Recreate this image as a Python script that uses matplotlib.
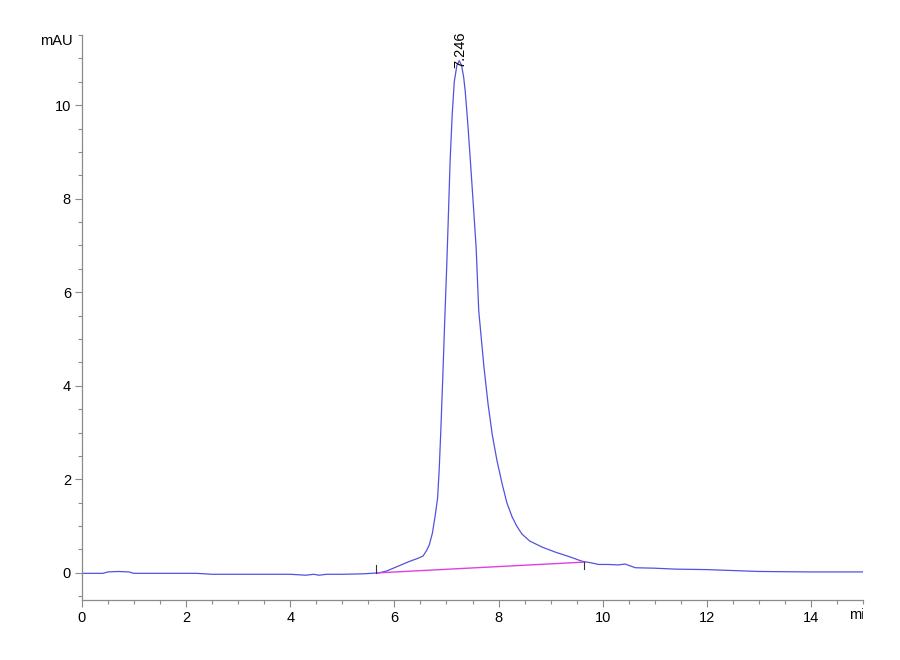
import matplotlib
matplotlib.use("Agg")
import matplotlib.pyplot as plt
from matplotlib.ticker import MultipleLocator
from matplotlib.transforms import Bbox, TransformedBbox

# ---- data ----
time_min = [0.0, 0.4, 0.5, 0.7, 0.9, 1.0, 1.5, 2.2, 2.5, 3.0, 3.5, 4.0, 4.3, 4.45,
            4.55, 4.7, 5.0, 5.4, 5.7, 5.85, 6.0, 6.15, 6.3, 6.45, 6.55, 6.62, 6.67,
            6.73, 6.78, 6.83, 6.86, 6.89, 6.93, 6.97, 7.0, 7.03, 7.07, 7.11, 7.15,
            7.2, 7.246, 7.29, 7.33, 7.36, 7.41, 7.46, 7.52, 7.57, 7.62, 7.67, 7.72,
            7.8, 7.88, 7.97, 8.07, 8.16, 8.26, 8.35, 8.45, 8.6, 8.84, 9.1, 9.35,
            9.6, 9.8, 9.92, 10.1, 10.3, 10.43, 10.5, 10.63, 11.0, 11.4, 12.0, 12.5,
            13.0, 14.0, 15.0]
signal_mau = [-0.01, -0.01, 0.02, 0.03, 0.02, -0.01, -0.01, -0.01, -0.03, -0.03,
              -0.03, -0.03, -0.05, -0.03, -0.05, -0.03, -0.03, -0.02, 0.0, 0.04,
              0.11, 0.18, 0.25, 0.31, 0.36, 0.48, 0.6, 0.85, 1.2, 1.6, 2.2, 3.0,
              4.2, 5.5, 6.4, 7.4, 8.8, 9.8, 10.5, 10.85, 10.95, 10.85, 10.6, 10.3,
              9.6, 8.8, 7.8, 6.95, 5.6, 5.0, 4.4, 3.6, 2.95, 2.4, 1.9, 1.5, 1.2,
              1.0, 0.83, 0.68, 0.55, 0.44, 0.35, 0.25, 0.21, 0.18, 0.18, 0.17,
              0.19, 0.16, 0.11, 0.10, 0.08, 0.07, 0.05, 0.03, 0.02, 0.02]

baseline_t = [5.68, 9.64]
baseline_y = [0.0, 0.23]

peak_rt = 7.246
peak_height = 10.95
peak_label = "7.246"

x_ticks = [0, 2, 4, 6, 8, 10, 12, 14]
y_ticks = [0, 2, 4, 6, 8, 10]

# ---- style ----
plt.rcParams['font.family'] = ['Liberation Sans Narrow', 'Liberation Sans', 'DejaVu Sans']
axis_grey = '#8a8a8a'
fs = 10.5

fig = plt.figure(figsize=(9, 6.6), dpi=100)
ax = fig.add_axes([0.0911, 0.0909, 0.8678, 0.8561])

ax.plot(time_min, signal_mau, color='#5252e0', lw=0.9)
ax.plot(baseline_t, baseline_y, color='#e040e0', lw=1.0)

# integration markers
ax.plot([baseline_t[0] - 0.04] * 2, [0.0, 0.16], color='#333333', lw=0.8)
ax.plot([baseline_t[1]] * 2, [0.09, 0.23], color='#333333', lw=0.8)

ax.text(peak_rt + 0.02, peak_height - 0.15, peak_label, rotation=90, ha='center',
        va='bottom', fontsize=fs, color='black')

ax.set_xlim(0, 15)
ax.set_ylim(-0.58, 11.5)

ax.set_xticks(x_ticks)
ax.set_yticks(y_ticks)
ax.xaxis.set_minor_locator(MultipleLocator(0.5))
ax.yaxis.set_minor_locator(MultipleLocator(0.5))

for s in ['top', 'right']:
    ax.spines[s].set_visible(False)
for s in ['left', 'bottom']:
    ax.spines[s].set_color(axis_grey)
    ax.spines[s].set_linewidth(0.9)

ax.tick_params(axis='both', which='major', length=5, width=0.8, color=axis_grey,
               labelsize=fs, labelcolor='black', pad=3)
ax.tick_params(axis='both', which='minor', length=3, width=0.8, color=axis_grey)

ax.text(-0.0115, 0.99, 'mAU', transform=ax.transAxes, ha='right', va='center',
        fontsize=fs, color='black')
t_min = ax.text(14.74, -0.75, 'min', ha='left', va='top', fontsize=fs, color='black')
t_min.set_clip_box(TransformedBbox(Bbox([[0, 0], [863 / 900, 1]]), fig.transFigure))
t_min.set_clip_on(True)

fig.savefig('out.png', dpi=100)
